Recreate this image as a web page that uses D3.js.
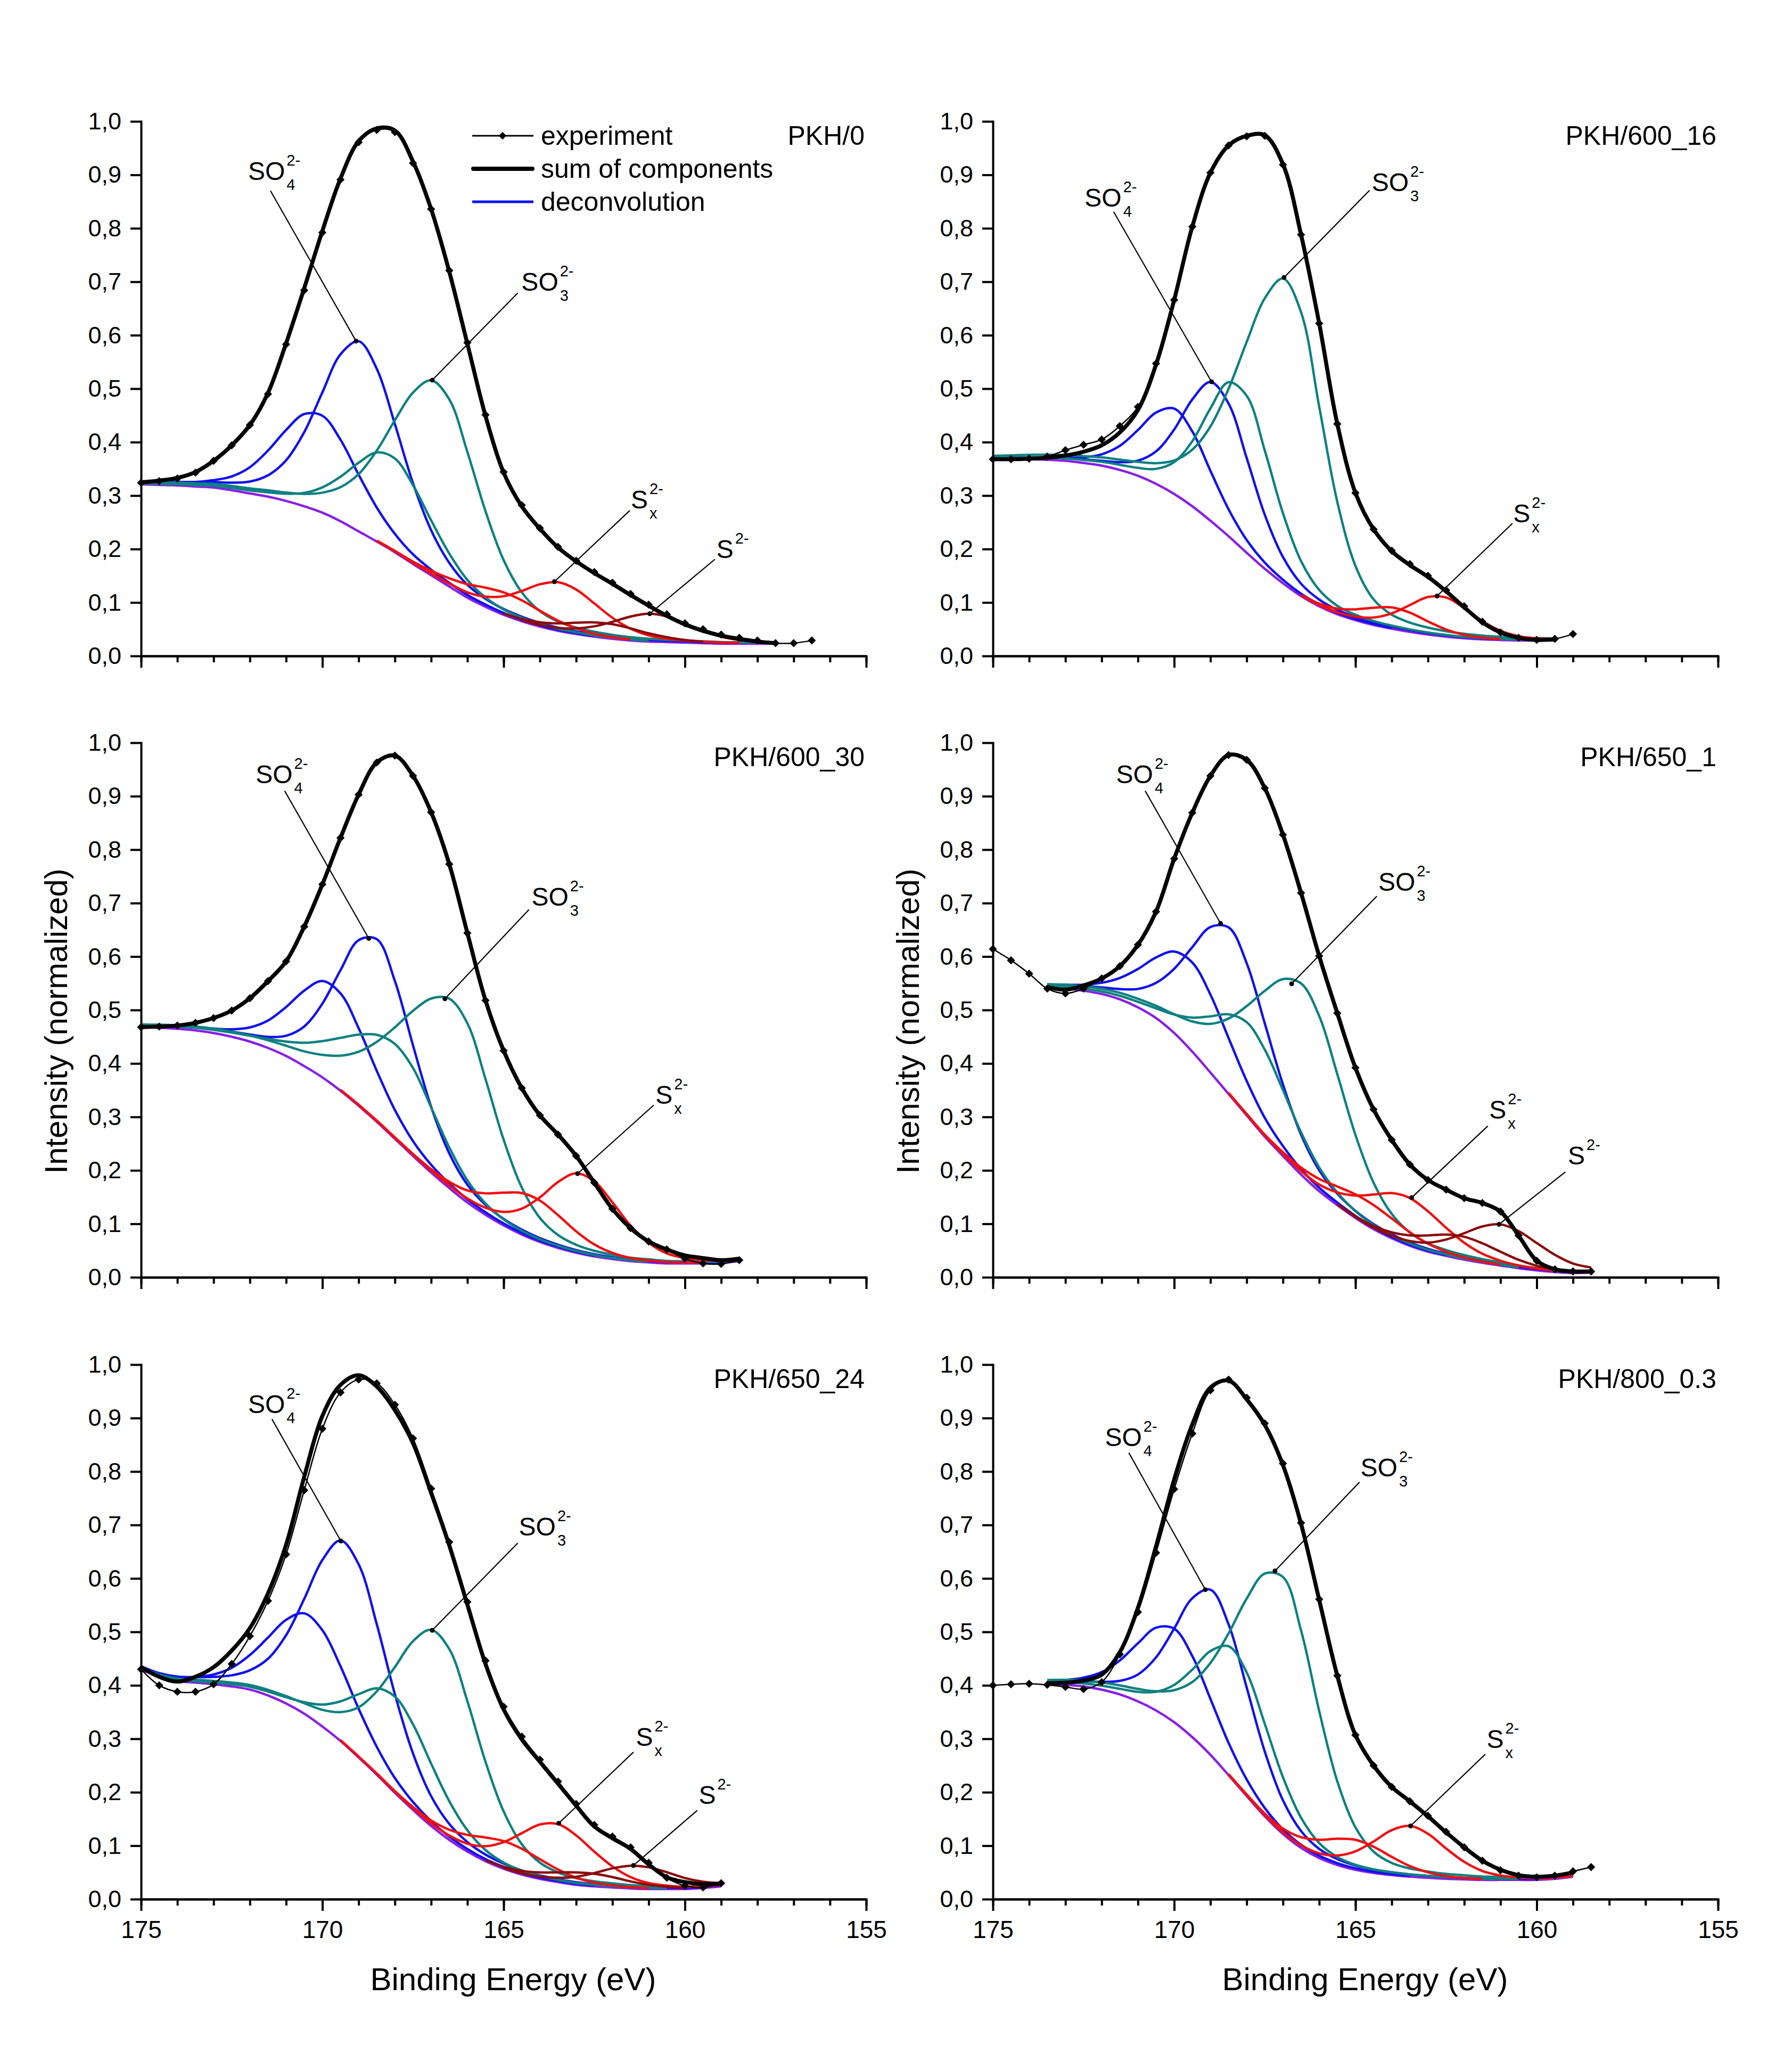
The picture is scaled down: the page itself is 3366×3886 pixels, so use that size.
<!DOCTYPE html>
<html><head><meta charset="utf-8">
<script src="https://cdn.jsdelivr.net/npm/d3@7"></script>
<style>body{margin:0;background:#fff}svg{display:block}</style>
</head><body><svg id="c" width="3366" height="3886"></svg>
<script>
// ---------------- DATA ----------------
const energyTicks = [175, 170, 165, 160, 155];
const energyTickLabels = ["175", "170", "165", "160", "155"];
const energyMinorTicks = [175,174,173,172,171,170,169,168,167,166,165,164,163,162,161,160,159,158,157,156,155];
const intensityTicks = [0, 0.1, 0.2, 0.3, 0.4, 0.5, 0.6, 0.7, 0.8, 0.9, 1.0];
const intensityTickLabels = ["0,0","0,1","0,2","0,3","0,4","0,5","0,6","0,7","0,8","0,9","1,0"];
const panelNames = ["PKH/0", "PKH/600_16", "PKH/600_30", "PKH/650_1", "PKH/650_24", "PKH/800_0.3"];
const energyStep = 0.5;               // eV spacing of the read samples
const expStart = [175, 175, 175, 175, 175, 175];
const fitStart = [175, 175, 175, 173.5, 175, 173.5];
const fwhm = [2.6, 2.2, 2.5, 2.6, 2.6, 2.4];
const lorentzFraction = 0.3;
const legendLabels = ["experiment", "sum of components", "deconvolution"];
const xTitle = "Binding Energy (eV)";
const yTitle = "Intensity (normalized)";

// experiment (normalized intensity, from expStart downward every 0.5 eV)
const exp0 = [0.324,0.327,0.332,0.343,0.365,0.394,0.432,0.490,0.583,0.684,0.792,0.891,0.961,0.984,0.980,0.922,0.836,0.721,0.586,0.451,0.344,0.282,0.239,0.204,0.178,0.157,0.137,0.116,0.096,0.078,0.061,0.050,0.040,0.034,0.029,0.024,0.024,0.029];
const exp1 = [0.368,0.368,0.369,0.373,0.385,0.395,0.405,0.430,0.466,0.547,0.666,0.803,0.904,0.955,0.972,0.973,0.919,0.788,0.622,0.434,0.305,0.237,0.197,0.172,0.150,0.123,0.093,0.064,0.044,0.034,0.030,0.032,0.041];
const exp2 = [0.468,0.469,0.471,0.476,0.485,0.499,0.522,0.554,0.591,0.656,0.735,0.822,0.903,0.963,0.976,0.938,0.870,0.773,0.644,0.518,0.424,0.354,0.303,0.267,0.227,0.177,0.128,0.092,0.067,0.052,0.035,0.026,0.025,0.032];
const exp3 = [0.614,0.593,0.568,0.540,0.531,0.540,0.559,0.582,0.622,0.684,0.783,0.869,0.938,0.977,0.968,0.915,0.828,0.719,0.601,0.494,0.392,0.314,0.257,0.211,0.182,0.164,0.148,0.139,0.123,0.078,0.031,0.015,0.011,0.011];
const exp4 = [0.430,0.400,0.388,0.388,0.402,0.440,0.492,0.558,0.645,0.765,0.880,0.948,0.972,0.965,0.925,0.862,0.768,0.668,0.556,0.446,0.360,0.304,0.261,0.220,0.178,0.139,0.117,0.097,0.068,0.040,0.025,0.022,0.030];
const exp5 = [0.400,0.402,0.403,0.401,0.397,0.393,0.406,0.458,0.537,0.648,0.767,0.871,0.952,0.972,0.938,0.890,0.815,0.704,0.561,0.418,0.307,0.250,0.210,0.183,0.156,0.126,0.097,0.072,0.054,0.044,0.041,0.044,0.052,0.060];

// sum of components (from fitStart downward every 0.5 eV)
const sum0 = [0.325,0.328,0.333,0.344,0.365,0.394,0.432,0.492,0.585,0.688,0.795,0.893,0.963,0.987,0.983,0.925,0.836,0.719,0.584,0.449,0.343,0.280,0.238,0.203,0.177,0.155,0.135,0.114,0.094,0.075,0.059,0.047,0.038,0.032,0.027,0.024];
const sum1 = [0.368,0.368,0.369,0.371,0.375,0.382,0.394,0.418,0.460,0.545,0.666,0.803,0.904,0.955,0.973,0.974,0.920,0.788,0.622,0.434,0.305,0.237,0.196,0.170,0.148,0.121,0.091,0.063,0.044,0.034,0.030,0.031];
const sum2 = [0.468,0.469,0.471,0.476,0.485,0.499,0.522,0.554,0.591,0.656,0.735,0.822,0.903,0.963,0.976,0.938,0.870,0.773,0.644,0.518,0.424,0.354,0.303,0.267,0.227,0.177,0.128,0.092,0.067,0.052,0.041,0.036,0.032,0.035];
const sum3 = [0.543,0.538,0.546,0.559,0.582,0.622,0.684,0.783,0.869,0.938,0.977,0.968,0.915,0.828,0.719,0.601,0.494,0.392,0.314,0.257,0.211,0.182,0.164,0.148,0.139,0.123,0.078,0.031,0.015,0.011,0.011];
const sum4 = [0.434,0.416,0.407,0.416,0.434,0.465,0.507,0.572,0.663,0.790,0.904,0.962,0.980,0.959,0.915,0.853,0.760,0.662,0.551,0.440,0.355,0.299,0.257,0.216,0.175,0.136,0.114,0.094,0.065,0.041,0.032,0.028,0.029];
const sum5 = [0.404,0.405,0.409,0.420,0.462,0.545,0.660,0.785,0.888,0.957,0.970,0.935,0.887,0.812,0.702,0.560,0.418,0.307,0.250,0.210,0.183,0.155,0.125,0.097,0.072,0.055,0.045,0.042,0.044,0.050];

// background (from fitStart downward every 0.5 eV)
const bg0 = [0.321,0.320,0.319,0.317,0.315,0.310,0.304,0.298,0.290,0.280,0.268,0.252,0.233,0.214,0.194,0.172,0.151,0.130,0.109,0.092,0.077,0.065,0.055,0.047,0.041,0.036,0.032,0.029,0.027,0.026,0.025,0.024,0.023,0.023,0.023,0.023];
const bg1 = [0.368,0.368,0.368,0.367,0.365,0.361,0.356,0.348,0.337,0.322,0.303,0.280,0.253,0.224,0.193,0.163,0.136,0.112,0.093,0.078,0.067,0.058,0.051,0.045,0.040,0.036,0.033,0.031,0.030,0.029,0.029,0.029];
const bg2 = [0.468,0.467,0.465,0.462,0.457,0.450,0.441,0.429,0.414,0.395,0.374,0.349,0.321,0.291,0.259,0.227,0.196,0.167,0.140,0.117,0.097,0.080,0.066,0.055,0.046,0.039,0.034,0.030,0.028,0.026,0.026,0.026,0.027,0.030];
const bg3 = [0.542,0.540,0.536,0.530,0.520,0.505,0.485,0.457,0.422,0.383,0.343,0.303,0.263,0.227,0.192,0.161,0.135,0.111,0.090,0.073,0.059,0.048,0.040,0.033,0.027,0.022,0.017,0.013,0.010,0.008,0.009];
const bg4 = [0.430,0.416,0.408,0.405,0.402,0.398,0.392,0.381,0.366,0.347,0.323,0.296,0.265,0.233,0.199,0.167,0.137,0.111,0.089,0.071,0.057,0.046,0.038,0.032,0.027,0.024,0.022,0.020,0.019,0.019,0.019,0.021,0.024];
const bg5 = [0.402,0.401,0.398,0.392,0.383,0.370,0.353,0.331,0.303,0.270,0.232,0.193,0.155,0.122,0.096,0.077,0.064,0.055,0.049,0.045,0.042,0.040,0.038,0.037,0.036,0.036,0.036,0.036,0.038,0.042];

// fitted peaks: [species, centre (eV), height above background, FWHM on the high-energy side (optional)]
const peaks0 = [["SO4",170.14,0.183],["SO4",168.96,0.356],["SO3",168.14,0.177],["SO3",166.83,0.368,3.15],["Sx",164.90,0.042],["Sx",163.44,0.091],["S2",162.20,0.028],["S2",160.92,0.052]];
const peaks1 = [["SO4",169.96,0.160],["SO4",168.82,0.265],["SO3",168.22,0.303],["SO3",166.85,0.574,3.2],["Sx",163.91,0.040],["Sx",162.68,0.075]];
const peaks2 = [["SO4",169.73,0.187],["SO4",168.55,0.342],["SO3",167.90,0.178,3.5],["SO3",166.35,0.356,3.8],["Sx",164.25,0.080],["Sx",162.86,0.150]];
const peaks3 = [["SO4",169.55,0.167],["SO4",168.45,0.312],["SO3",167.90,0.175],["SO3",166.44,0.358,3.5],["Sx",164.70,0.046],["Sx",163.63,0.090],["S2",162.10,0.043],["S2",160.98,0.077]];
const peaks4 = [["SO4",170.34,0.190],["SO4",169.33,0.380],["SO3",168.01,0.180],["SO3",166.80,0.372,3.0],["Sx",164.90,0.052],["Sx",163.61,0.109],["S2",162.70,0.024],["S2",161.35,0.043]];
const peaks5 = [["SO4",170.02,0.175],["SO4",168.92,0.310],["SO3",168.33,0.245],["SO3",167.07,0.482,3.1],["Sx",165.00,0.056],["Sx",163.52,0.095]];

// annotations: [species, text anchor (eV, I), leader start (eV, I), leader end (eV, I)]
const notes0 = [["SO4",172.05,0.890,171.43,0.870,169.07,0.589],["SO3",164.51,0.683,164.61,0.679,166.97,0.516],["Sx",161.49,0.276,161.52,0.272,163.60,0.139],["S2",159.13,0.183,159.17,0.181,160.97,0.079]];
const notes1 = [["SO4",172.47,0.841,171.67,0.831,168.97,0.513],["SO3",164.55,0.870,164.61,0.871,166.97,0.708],["Sx",160.65,0.250,160.67,0.248,162.75,0.112]];
const notes2 = [["SO4",171.84,0.924,171.04,0.910,168.72,0.634],["SO3",164.23,0.695,164.30,0.688,166.62,0.521],["Sx",160.81,0.325,160.86,0.322,162.96,0.194]];
const notes3 = [["SO4",171.60,0.924,170.80,0.910,168.72,0.662],["SO3",164.37,0.723,164.41,0.713,166.76,0.549],["Sx",161.31,0.297,161.35,0.283,163.45,0.149],["S2",159.14,0.211,159.21,0.197,161.04,0.099]];
const notes4 = [["SO4",172.05,0.909,171.39,0.898,169.49,0.670],["SO3",164.58,0.680,164.61,0.666,166.97,0.503],["Sx",161.35,0.287,161.42,0.275,163.48,0.142],["S2",159.62,0.178,159.66,0.166,161.42,0.063]];
const notes5 = [["SO4",171.91,0.848,171.25,0.835,169.14,0.579],["SO3",164.86,0.791,164.89,0.780,167.22,0.614],["Sx",161.38,0.283,161.42,0.271,163.48,0.137]];

const speciesText = {SO4:["SO","4","2-"], SO3:["SO","3","2-"], Sx:["S","x","2-"], S2:["S","","2-"]};

// ---------------- STYLE / LAYOUT ----------------
const FONT = "'Liberation Sans', Arial, Helvetica, sans-serif";
const colors = {SO4:"#1010f0", SO3:"#0f8080", Sx:"#f01010", S2:"#8a0c0c", bg:"#8a1ee8"};
const colX = [265, 1865], rowY = [228, 1395, 2563];
const W = 1362, H = 1004;

const panels = [0,1,2,3,4,5].map(i => ({
  name: panelNames[i],
  exp: [exp0,exp1,exp2,exp3,exp4,exp5][i],
  sum: [sum0,sum1,sum2,sum3,sum4,sum5][i],
  bg: [bg0,bg1,bg2,bg3,bg4,bg5][i],
  peaks: [peaks0,peaks1,peaks2,peaks3,peaks4,peaks5][i],
  notes: [notes0,notes1,notes2,notes3,notes4,notes5][i],
  e0: expStart[i], f0: fitStart[i], w: fwhm[i]
}));

// Gaussian-Lorentzian (sum) line shape, optionally wider on the high-energy side
function shape(e, c, f, fHigh) {
  const t = (e - c) / (e > c && fHigh ? fHigh : f);
  return (1 - lorentzFraction) * Math.exp(-4 * Math.LN2 * t * t) + lorentzFraction / (1 + 4 * t * t);
}

const svg = d3.select("#c");
svg.append("rect").attr("width", 3366).attr("height", 3886).attr("fill", "#fff");

const x = d3.scaleLinear().domain([175, 155]).range([0, W]);
const y = d3.scaleLinear().domain([0, 1]).range([H, 0]);
const line = d3.line().x(d => x(d[0])).y(d => y(d[1])).curve(d3.curveCatmullRom.alpha(0.5));

panels.forEach((p, i) => {
  const col = i % 2, row = Math.floor(i / 2);
  const g = svg.append("g").attr("transform", `translate(${colX[col]},${rowY[row]})`);

  const eExp = p.exp.map((v, k) => [p.e0 - k * energyStep, v]);
  const eSum = p.sum.map((v, k) => [p.f0 - k * energyStep, v]);
  const eBg = p.bg.map((v, k) => [p.f0 - k * energyStep, v]);

  // background
  g.append("path").attr("d", line(eBg)).attr("fill", "none")
    .attr("stroke", colors.bg).attr("stroke-width", 4.5);

  // components (each sitting on the background, drawn where it rises above it)
  const order = ["SO4", "SO3", "Sx", "S2"];
  order.forEach(sp => {
    p.peaks.filter(pk => pk[0] === sp).forEach(pk => {
      const pts = eBg.map(d => {
        const a = pk[2] * shape(d[0], pk[1], p.w, pk[3]);
        return [d[0], d[1] + a, a];
      });
      const vis = pts.filter(d => d[2] > 0.0015 || Math.abs(d[0] - pk[1]) < 1);
      g.append("path").attr("d", line(vis)).attr("fill", "none")
        .attr("stroke", colors[sp]).attr("stroke-width", 4.5);
    });
  });

  // sum of components
  g.append("path").attr("d", line(eSum)).attr("fill", "none")
    .attr("stroke", "#000").attr("stroke-width", 7.5).attr("stroke-linejoin", "round");

  // experiment
  g.append("path").attr("d", line(eExp)).attr("fill", "none")
    .attr("stroke", "#000").attr("stroke-width", 2.5);
  g.append("g").selectAll("path").data(eExp).join("path")
    .attr("d", d3.symbol(d3.symbolDiamond2, 150)())
    .attr("transform", d => `translate(${x(d[0])},${y(d[1])})`)
    .attr("fill", "#000");

  // annotations
  p.notes.forEach(n => {
    const [sp, tx, ty, sx, sy, ex, ey] = n;
    g.append("line").attr("x1", x(sx)).attr("y1", y(sy)).attr("x2", x(ex)).attr("y2", y(ey))
      .attr("stroke", "#000").attr("stroke-width", 2.2);
    g.append("circle").attr("cx", x(ex)).attr("cy", y(ey)).attr("r", 4.5).attr("fill", "#000");
    const [main, sub, sup] = speciesText[sp];
    const t = g.append("text").attr("x", x(tx)).attr("y", y(ty))
      .attr("font-family", FONT).attr("font-size", 48).attr("fill", "#000").text(main);
    const wMain = t.node().getComputedTextLength();
    const sx0 = x(tx) + wMain + 3;
    g.append("text").attr("x", sx0).attr("y", y(ty) - 27).attr("font-family", FONT)
      .attr("font-size", 29).text(sup);
    if (sub) g.append("text").attr("x", sx0).attr("y", y(ty) + 19).attr("font-family", FONT)
      .attr("font-size", 29).text(sub);
  });

  // axes
  const ax = g.append("g").attr("transform", `translate(0,${H})`)
    .call(d3.axisBottom(x).tickValues(energyMinorTicks).tickSize(12).tickSizeOuter(0).tickFormat(""));
  ax.select(".domain").attr("stroke-width", 4);
  ax.selectAll(".tick line").attr("stroke-width", 4);
  const axM = g.append("g").attr("transform", `translate(0,${H})`)
    .call(d3.axisBottom(x).tickValues(energyTicks).tickSize(22).tickSizeOuter(0).tickPadding(18)
      .tickFormat((d, k) => row === 2 ? energyTickLabels[k] : ""));
  axM.attr("font-family", FONT).attr("font-size", 46);
  axM.select(".domain").attr("stroke-width", 4).attr("stroke-linecap", "square");
  axM.selectAll(".tick line").attr("stroke-width", 4);
  axM.selectAll("text").attr("fill", "#000");

  const ay = g.append("g")
    .call(d3.axisLeft(y).tickValues(intensityTicks).tickSize(20).tickSizeOuter(0).tickPadding(17)
      .tickFormat((d, k) => intensityTickLabels[k]));
  ay.attr("font-family", FONT).attr("font-size", 45);
  ay.select(".domain").attr("stroke-width", 4).attr("stroke-linecap", "square");
  ay.selectAll(".tick line").attr("stroke-width", 4);
  ay.selectAll("text").attr("fill", "#000");

  // panel label
  g.append("text").attr("x", W - 3).attr("y", 44).attr("text-anchor", "end")
    .attr("font-family", FONT).attr("font-size", 50).text(p.name);

  // axis titles
  if (row === 2) {
    g.append("text").attr("x", W / 2 + 18).attr("y", H + 171).attr("text-anchor", "middle")
      .attr("font-family", FONT).attr("font-size", 60).text(xTitle);
  }
  if (row === 1) {
    g.append("text").attr("transform", `translate(${126 - 265},${1918 - rowY[1]}) rotate(-90)`)
      .attr("text-anchor", "middle").attr("font-family", FONT).attr("font-size", 60).text(yTitle);
  }

  // legend (first panel only)
  if (i === 0) {
    const lg = g.append("g").attr("font-family", FONT).attr("font-size", 50);
    const rows = [27, 89, 151];
    lg.append("line").attr("x1", 622).attr("x2", 737).attr("y1", rows[0]).attr("y2", rows[0])
      .attr("stroke", "#000").attr("stroke-width", 3);
    lg.append("path").attr("d", d3.symbol(d3.symbolDiamond2, 130)())
      .attr("transform", `translate(679,${rows[0]})`).attr("fill", "#000");
    lg.append("line").attr("x1", 624).attr("x2", 735).attr("y1", rows[1]).attr("y2", rows[1])
      .attr("stroke", "#000").attr("stroke-width", 8).attr("stroke-linecap", "round");
    lg.append("line").attr("x1", 622).attr("x2", 737).attr("y1", rows[2]).attr("y2", rows[2])
      .attr("stroke", colors.SO4).attr("stroke-width", 5);
    legendLabels.forEach((t, k) => lg.append("text").attr("x", 751).attr("y", rows[k] + 17).text(t));
  }
});
</script></body></html>
